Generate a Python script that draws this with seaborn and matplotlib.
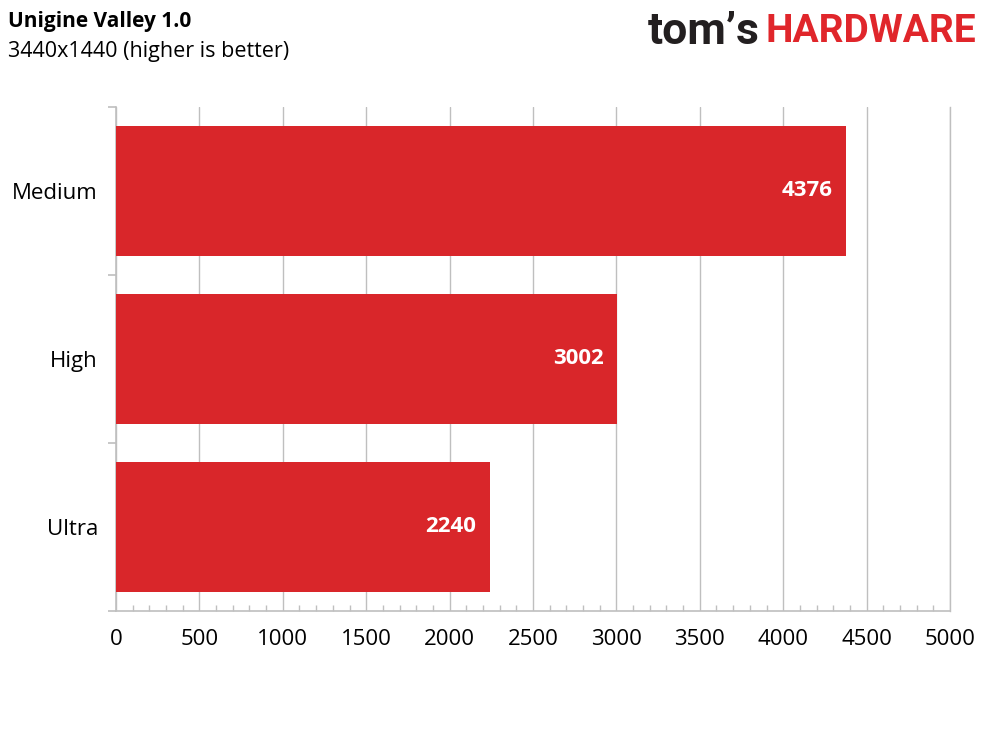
import pandas as pd
import numpy as np
import matplotlib
matplotlib.use("Agg")
import matplotlib.pyplot as plt
from matplotlib.ticker import MultipleLocator, FixedLocator
import seaborn as sns

# chart data
presets = ["Medium", "High", "Ultra"]
scores = [4376, 3002, 2240]
x_ticks = [0, 500, 1000, 1500, 2000, 2500, 3000, 3500, 4000, 4500, 5000]

title = "Unigine Valley 1.0"
subtitle = "3440x1440 (higher is better)"

bar_red = "#D9262A"
grid_grey = "#BFBFBF"

sns.set_style("white")
plt.rcParams['font.family'] = ['Open Sans', 'DejaVu Sans']

df = pd.DataFrame({"preset": presets, "score": scores})

fig = plt.figure(figsize=(9.89, 7.42), dpi=100)
ax = fig.add_axes([116 / 989, 1 - 611 / 742, (950 - 116) / 989, (611 - 107) / 742])

sns.barplot(data=df, x="score", y="preset", orient="h", color=bar_red,
            saturation=1, width=0.77, linewidth=0, edgecolor=bar_red,
            ax=ax, zorder=3)

ax.set_xlim(0, 5000)
ax.set_ylim(2.5, -0.5)
ax.set_xticks(x_ticks)
ax.set_xticklabels([str(t) for t in x_ticks])
ax.xaxis.set_minor_locator(MultipleLocator(100))
ax.yaxis.set_minor_locator(FixedLocator([-0.5, 0.5, 1.5, 2.5]))

ax.grid(axis="x", which="major", color=grid_grey, linewidth=1, zorder=0)
ax.set_axisbelow(True)

ax.spines["top"].set_visible(False)
ax.spines["right"].set_color(grid_grey)
ax.spines["right"].set_linewidth(1)
for side in ["left", "bottom"]:
    ax.spines[side].set_color(grid_grey)
    ax.spines[side].set_linewidth(1.2)

ax.tick_params(axis="x", which="major", bottom=True, length=0, pad=13, labelsize=16, labelcolor="black")
ax.tick_params(axis="x", which="minor", bottom=True, direction="in", length=4, color=grid_grey, width=1)
ax.tick_params(axis="y", which="major", left=True, length=0, pad=13, labelsize=16, labelcolor="black")
ax.tick_params(axis="y", which="minor", left=True, direction="out", length=6, color=grid_grey, width=1.2)
ax.set_xlabel("")
ax.set_ylabel("")

# value labels inside the bar ends
for i, v in enumerate(scores):
    ax.text(v - 80, i, str(v), ha="right", va="center", color="white",
            fontsize=16, fontweight="bold", zorder=4)

# titles
fig.text(8 / 989, 1 - 22 / 742, title, ha="left", va="center",
         fontsize=15, fontweight="bold", color="black")
fig.text(8 / 989, 1 - 51 / 742, subtitle, ha="left", va="center",
         fontsize=15.5, color="black")

# logo
fig.text(760 / 989, 1 - 32 / 742, "tom\u2019s", ha="right", va="center",
         fontsize=32, fontweight="bold", color="#231F20", family=["Roboto", "DejaVu Sans"])
fig.text(765 / 989, 1 - 32 / 742, "HARDWARE", ha="left", va="center",
         fontsize=28, fontweight="bold", color="#E0262B", family=["Roboto", "DejaVu Sans"])

fig.savefig("out.png", dpi=100)
